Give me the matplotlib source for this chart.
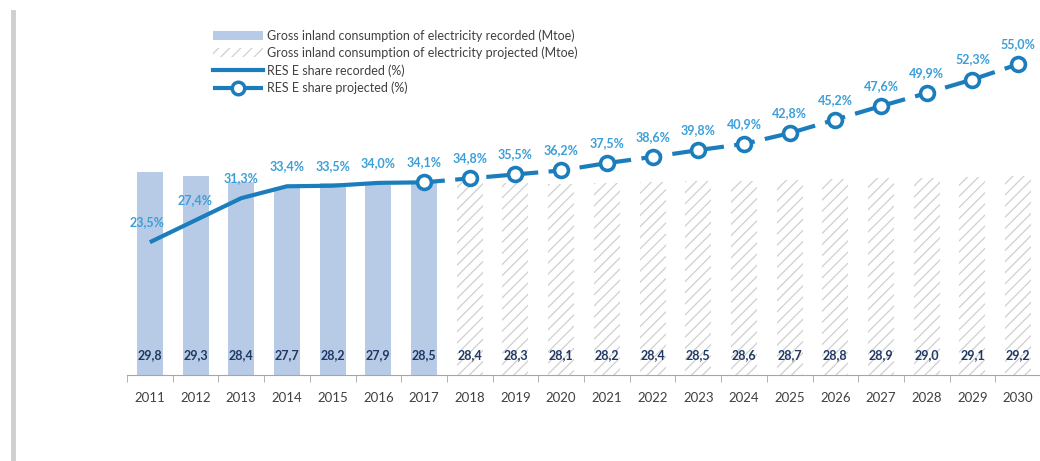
import numpy as np
import matplotlib
matplotlib.use("Agg")
from matplotlib import pyplot as plt
from matplotlib.patches import Patch
from matplotlib.lines import Line2D

plt.rcParams['font.family'] = ['Lato', 'DejaVu Sans']
plt.rcParams['hatch.linewidth'] = 0.9

years = list(range(2011, 2031))
consumption = [29.8, 29.3, 28.4, 27.7, 28.2, 27.9, 28.5,
               28.4, 28.3, 28.1, 28.2, 28.4, 28.5, 28.6, 28.7, 28.8, 28.9, 29.0, 29.1, 29.2]
res_share = [23.5, 27.4, 31.3, 33.4, 33.5, 34.0, 34.1,
             34.8, 35.5, 36.2, 37.5, 38.6, 39.8, 40.9, 42.8, 45.2, 47.6, 49.9, 52.3, 55.0]
n_recorded = 7

bar_col = '#b8cbe6'
line_col = '#1c7dbd'
lbl_col = '#3a9fd8'
val_col = '#1f3864'
hatch_col = '#cfcfcf'

x = np.arange(len(years))

fig = plt.figure(figsize=(10.4, 4.61), dpi=100)
ax = fig.add_axes([127 / 1040, 1 - 375 / 461, (1041 - 127) / 1040, 355 / 461])
ax2 = ax.twinx()

# bars
ax.bar(x[:n_recorded], consumption[:n_recorded], width=0.57, color=bar_col, zorder=1)
ax.bar(x[n_recorded:], consumption[n_recorded:], width=0.57, facecolor='white',
       edgecolor=hatch_col, hatch='///', linewidth=0, zorder=1)
for xi, v in zip(x, consumption):
    ax.text(xi, 3.0, f"{v:.1f}".replace('.', ','), ha='center', va='center',
            fontsize=9, fontweight='bold', color=val_col, zorder=5)

ax.set_ylim(0, 355 / 6.8)
ax.set_xlim(-0.5, len(years) - 0.5)

# lines
ax2.plot(x[:n_recorded], res_share[:n_recorded], color=line_col, lw=3, zorder=3,
         solid_capstyle='butt')
ax2.plot(x[n_recorded - 1:], res_share[n_recorded - 1:], color=line_col, lw=3,
         dashes=(5, 2.5), marker='o', markersize=10, markerfacecolor='white',
         markeredgecolor=line_col, markeredgewidth=2.6, zorder=4)
for xi, v in zip(x, res_share):
    ax2.annotate(f"{v:.1f}%".replace('.', ','), (xi, v), xytext=(-3 if xi == 0 else 0, 14),
                 textcoords='offset pixels', ha='center', va='bottom',
                 fontsize=9, fontweight='bold', color=lbl_col)
ax2.set_ylim(0, 355 / 5.65)

for a in (ax, ax2):
    for s in ('top', 'right', 'left'):
        a.spines[s].set_visible(False)
    a.set_yticks([])
ax2.spines['bottom'].set_visible(False)
ax.spines['bottom'].set_color('#a6a6a6')

ax.set_xticks(x)
ax.set_xticklabels([str(y) for y in years], fontsize=9.5, color='#404040')
ax.tick_params(axis='x', which='major', length=0, pad=12)
ax.set_xticks(np.arange(-0.5, len(years), 1), minor=True)
ax.tick_params(axis='x', which='minor', length=5, color='#a6a6a6')

handles = [
    Patch(facecolor=bar_col, edgecolor='none'),
    Patch(facecolor='white', edgecolor=hatch_col, hatch='///', linewidth=0),
    Line2D([], [], color=line_col, lw=3),
    Line2D([], [], color=line_col, lw=3, dashes=(5, 2.5), marker='o', markersize=9,
           markerfacecolor='white', markeredgecolor=line_col, markeredgewidth=2.5),
]
labels = ['Gross inland consumption of electricity recorded (Mtoe)',
          'Gross inland consumption of electricity projected (Mtoe)',
          'RES E share recorded (%)',
          'RES E share projected (%)']
fig.legend(handles, labels, loc='upper left', bbox_to_anchor=(208 / 1040, 1 - 24 / 461),
           frameon=False, fontsize=9, labelspacing=0.4, handlelength=4.0,
           handletextpad=0.3, borderaxespad=0, labelcolor='#404040')

fig.add_artist(Line2D([13 / 1040, 13 / 1040], [0, 1 - 12 / 461], transform=fig.transFigure,
                      color='#cfcfcf', lw=3.5))

fig.savefig('out.png', dpi=100)
